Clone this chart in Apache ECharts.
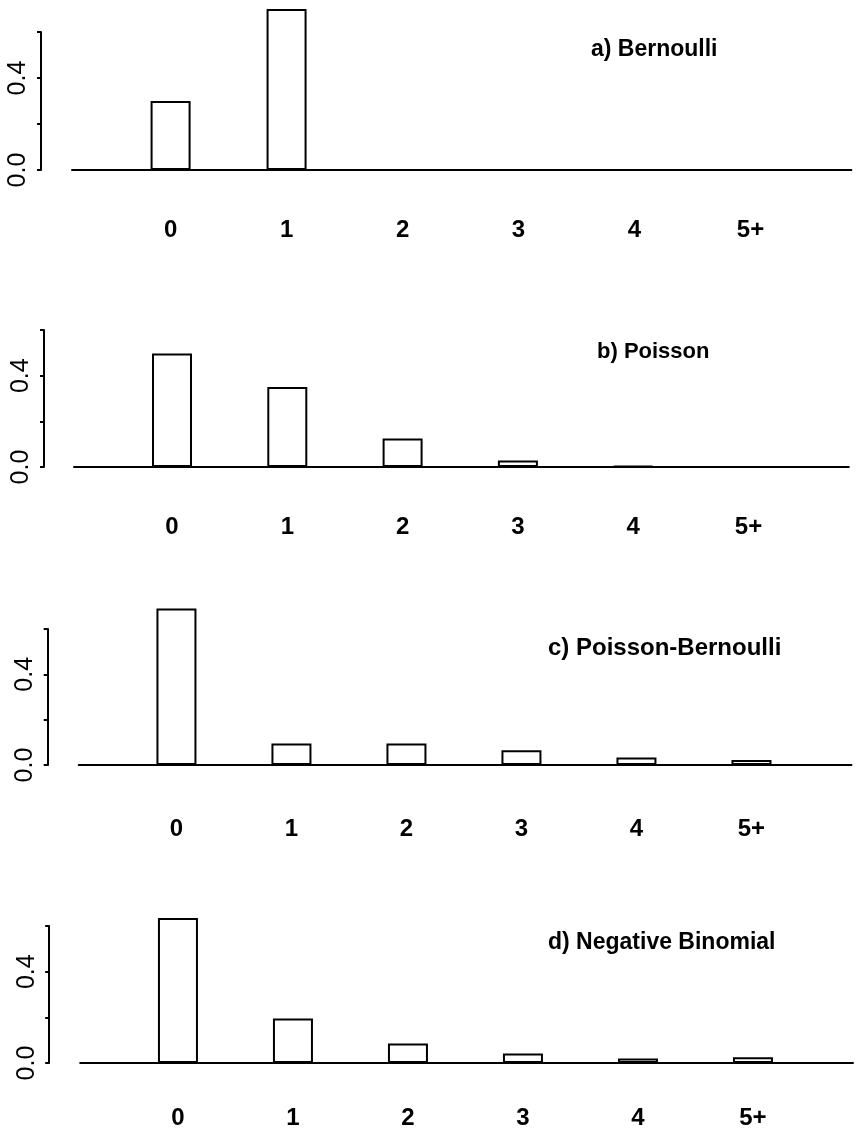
<!DOCTYPE html>
<html><head><meta charset="utf-8">
<script src="https://cdn.jsdelivr.net/npm/echarts@6/dist/echarts.min.js"></script>
<style>html,body{margin:0;padding:0;background:#fff}#c{width:862px;height:1134px}</style>
</head><body><div id="c"></div>
<script>
const categories = ['0', '1', '2', '3', '4', '5+'];
const yTickLabels = ['0.0', '', '0.4', ''];
const panelTitles = ['a) Bernoulli', 'b) Poisson', 'c) Poisson-Bernoulli', 'd) Negative Binomial'];
const bernoulli = [0.30, 0.70, 0, 0, 0, 0];
const poisson = [0.497, 0.350, 0.125, 0.028, 0.005, 0.001];
const poissonBernoulli = [0.69, 0.095, 0.095, 0.065, 0.033, 0.022];
const negativeBinomial = [0.635, 0.195, 0.085, 0.042, 0.020, 0.025];
const panelValues = [bernoulli, poisson, poissonBernoulli, negativeBinomial];

const layout = [
  { left: 72, right: 10.6, top: 32, height: 138, yOff: 31, xMargin: 48, tl: 591, tt: 38, tf: 23 },
  { left: 74, right: 13.2, top: 330, height: 137, yOff: 30, xMargin: 48, tl: 597, tt: 341, tf: 22 },
  { left: 78.7, right: 10.5, top: 629, height: 136, yOff: 31, xMargin: 52, tl: 548, tt: 636, tf: 24 },
  { left: 80.2, right: 9, top: 926, height: 137, yOff: 31, xMargin: 43, tl: 548, tt: 931, tf: 23 }
];
const FONT = '"Liberation Sans", Arial, Helvetica, sans-serif';
const chart = echarts.init(document.getElementById('c'));
const option = {
  animation: false,
  backgroundColor: '#fff',
  title: layout.map((L, i) => ({
    text: panelTitles[i], left: L.tl, top: L.tt, padding: 0,
    textStyle: { fontSize: L.tf, fontWeight: 'bold', color: '#000', fontFamily: FONT }
  })),
  grid: layout.map(L => ({ left: L.left, right: L.right, top: L.top, height: L.height, containLabel: false })),
  xAxis: layout.map((L, i) => ({
    type: 'value', gridIndex: i, min: -0.85, max: 5.87,
    axisLine: { show: true, onZero: false, lineStyle: { color: '#000', width: 2 } },
    axisTick: { show: false },
    splitLine: { show: false },
    axisLabel: {
      customValues: [0, 1, 2, 3, 4, 5],
      formatter: v => categories[Math.round(v)],
      margin: L.xMargin, fontSize: 24, fontWeight: 'bold', color: '#000', fontFamily: FONT
    }
  })),
  yAxis: layout.map((L, i) => ({
    type: 'value', gridIndex: i, min: 0, max: 0.6, interval: 0.2, offset: L.yOff,
    axisLine: { show: true, onZero: false, lineStyle: { color: '#000', width: 2 } },
    axisTick: { show: true, length: 4, lineStyle: { color: '#000', width: 2 } },
    splitLine: { show: false },
    axisLabel: {
      rotate: 90, margin: 10, fontSize: 25, color: '#000', fontFamily: FONT,
      formatter: v => yTickLabels[Math.round(v / 0.2)]
    }
  })),
  series: panelValues.map((vals, i) => ({
    type: 'bar', xAxisIndex: i, yAxisIndex: i, barWidth: 40, clip: false, silent: true,
    data: vals.map((v, k) => [k, v]),
    itemStyle: { color: '#fff', borderColor: '#000', borderWidth: 2 }
  }))
};
chart.setOption(option);
</script></body></html>
